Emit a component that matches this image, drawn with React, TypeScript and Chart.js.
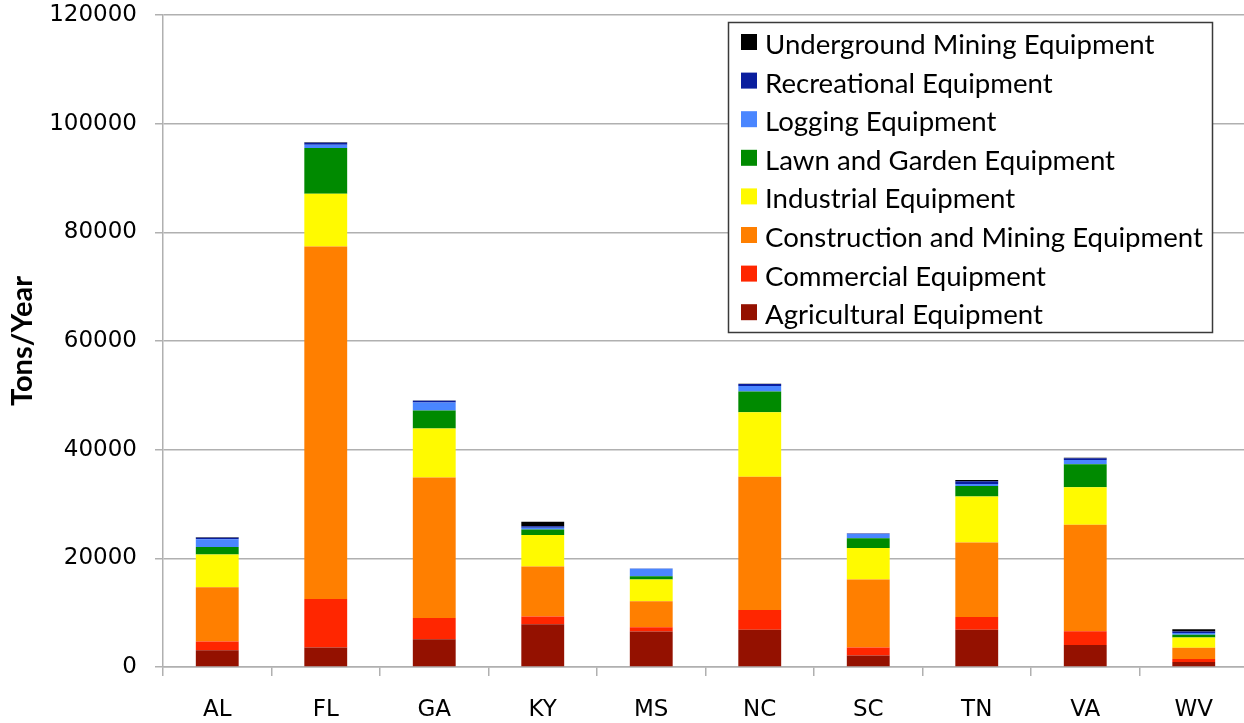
import React, { useEffect, useRef } from "react";
import { Chart, registerables } from "chart.js";

Chart.register(...registerables);

const states = ["AL", "FL", "GA", "KY", "MS", "NC", "SC", "TN", "VA", "WV"];
const agricultural = [3100, 3600, 5100, 7850, 6550, 6850, 2100, 6850, 4050, 900];
const commercial = [1600, 8900, 3900, 1450, 750, 3650, 1500, 2350, 2550, 550];
const construction = [10000, 64900, 25900, 9200, 4800, 24500, 12500, 13700, 19600, 2100];
const industrial = [6000, 9700, 9000, 5800, 4000, 11900, 5800, 8500, 6900, 1900];
const lawnGarden = [1400, 8400, 3300, 1000, 600, 3800, 1800, 1900, 4200, 500];
const logging = [1400, 600, 1500, 350, 1400, 1000, 800, 400, 800, 300];
const recreational = [300, 400, 300, 250, 50, 400, 50, 500, 300, 300];
const underground = [100, 100, 50, 850, 0, 50, 0, 200, 100, 400];

const yMin = 0;
const yMax = 120000;
const yStep = 20000;

const seriesNames = [
  "Agricultural Equipment",
  "Commercial Equipment",
  "Construction and Mining Equipment",
  "Industrial Equipment",
  "Lawn and Garden Equipment",
  "Logging Equipment",
  "Recreational Equipment",
  "Underground Mining Equipment",
];
const seriesColors = [
  "#941100",
  "#FF2600",
  "#FF7F00",
  "#FFFA00",
  "#008A00",
  "#4A86FF",
  "#0A1E9E",
  "#000000",
];
const seriesValues = [
  agricultural,
  commercial,
  construction,
  industrial,
  lawnGarden,
  logging,
  recreational,
  underground,
];

const boxLegend = {
  id: "boxLegend",
  afterDraw(chart: any) {
    const ctx = chart.ctx as CanvasRenderingContext2D;
    const ds = [...chart.data.datasets].reverse();
    const x0 = 728.5;
    const y0 = 22.5;
    const w = 484;
    const h = 310;
    ctx.save();
    ctx.fillStyle = "#ffffff";
    ctx.fillRect(x0, y0, w, h);
    ctx.strokeStyle = "#3a3a3a";
    ctx.lineWidth = 1.5;
    ctx.strokeRect(x0, y0, w, h);
    ctx.font = "27.6px Lato";
    ctx.textBaseline = "middle";
    ctx.textAlign = "left";
    ds.forEach((d: any, i: number) => {
      const cy = 44 + i * 38.6;
      ctx.fillStyle = d.backgroundColor;
      ctx.fillRect(741, cy - 10, 16, 16);
      ctx.fillStyle = "#000000";
      ctx.fillText(d.label, 765, cy + 1);
    });
    ctx.restore();
  },
};

export default function App() {
  const ref = useRef<HTMLCanvasElement | null>(null);
  useEffect(() => {
    if (!ref.current) return;
    const chart = new Chart(ref.current, {
      type: "bar",
      data: {
        labels: states,
        datasets: seriesValues.map((vals, i) => ({
          label: seriesNames[i],
          data: vals,
          backgroundColor: seriesColors[i],
          borderWidth: 0,
          barPercentage: 0.395,
          categoryPercentage: 1,
        })),
      },
      options: {
        animation: false,
        responsive: false,
        events: [],
        layout: { padding: { top: 15, right: 2, left: 0, bottom: 0 } },
        plugins: {
          legend: { display: false },
          tooltip: { enabled: false },
        },
        scales: {
          x: {
            stacked: true,
            grid: {
              display: true,
              drawOnChartArea: false,
              drawTicks: true,
              tickLength: 9,
              color: "#b0b0b0",
              lineWidth: 1.5,
            },
            border: { color: "#b0b0b0", width: 1.5 },
            ticks: {
              font: { family: "DejaVu Sans", size: 23 },
              color: "#000000",
              padding: 20,
            },
            afterFit: (s: any) => {
              s.height = 56;
              s.paddingLeft = 0;
              s.paddingRight = 0;
            },
          },
          y: {
            stacked: true,
            min: yMin,
            max: yMax,
            grid: {
              color: "#b0b0b0",
              lineWidth: 1.5,
              tickLength: 8,
            },
            border: { color: "#b0b0b0", width: 1.5 },
            ticks: {
              stepSize: yStep,
              font: { family: "DejaVu Sans", size: 23 },
              color: "#000000",
              padding: 18,
              callback: (v: any) => String(v),
            },
            title: {
              display: true,
              text: "Tons/Year",
              font: { family: "Lato", size: 29, weight: "bold" },
              color: "#000000",
              padding: { top: 5, bottom: 0 },
            },
            afterFit: (s: any) => {
              s.width = 163;
              s.paddingTop = 0;
              s.paddingBottom = 0;
            },
          },
        },
      },
      plugins: [boxLegend],
    });
    return () => chart.destroy();
  }, []);
  return (
    <div
      style={{
        position: "fixed",
        left: 0,
        top: 0,
        width: 1244,
        height: 723,
        overflow: "hidden",
        background: "#ffffff",
      }}
    >
      <canvas ref={ref} width={1250} height={723} style={{ display: "block" }} />
    </div>
  );
}
